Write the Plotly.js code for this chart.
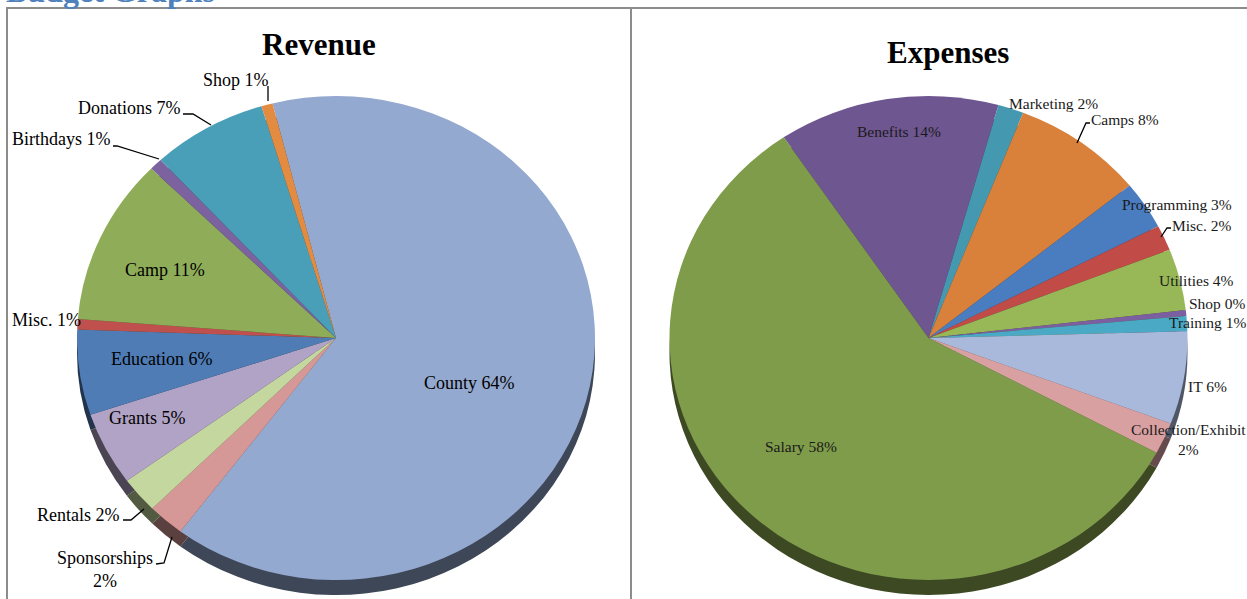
<!DOCTYPE html>
<html>
<head>
<meta charset="utf-8">
<script src="https://cdn.plot.ly/plotly-3.0.1.min.js"></script>
<style>
html,body{margin:0;padding:0;background:#ffffff;overflow:hidden;}
#chart{width:1247px;height:599px;}
</style>
</head>
<body>
<div id="chart"></div>
<script>
// ---------------- data ----------------
var pageHeading = 'Budget Graphs';
var chartTitles = ['Revenue', 'Expenses'];

var revLabels = ['County', 'Sponsorships', 'Rentals', 'Grants', 'Education', 'Misc.', 'Camp', 'Birthdays', 'Donations', 'Shop'];
var revValues = [64.2, 2.3, 2.4, 4.9, 5.7, 0.7, 11.1, 0.8, 7.2, 0.7];

var expLabels = ['Benefits', 'Marketing', 'Camps', 'Programming', 'Misc.', 'Utilities', 'Shop', 'Training', 'IT', 'Collection/Exhibit', 'Salary'];
var expValues = [13.8, 1.6, 8.2, 3.2, 1.7, 4.1, 0.4, 1.0, 6.2, 2.1, 57.7];

// ---------------- styles ----------------
var revColors = ['#94a9cf', '#d69896', '#c4d79e', '#b1a3c5', '#4f7cb5', '#c0504d', '#8fad58', '#7d62a0', '#4a9fb8', '#e28b41'];
var expColors = ['#6e5690', '#4499b0', '#d9803a', '#4a7cc0', '#c14b47', '#98b857', '#7b5fa0', '#4aaac6', '#a8b9db', '#d9a0a2', '#7f9c4b'];

var W = 1247, H = 599;
var RX = 259, RY = 242, DEPTH = 15;
var pieCenters = [[336, 338], [928.5, 338]];
var rotations = [-14.2, -34];

// label layout: centre in px, line break flag, leader line points in px
var revLabelLayout = [
  {c: [469, 383]},
  {c: [105, 569], br: true, line: [[156, 564], [164, 563], [172, 537]]},
  {c: [78, 515], line: [[123, 520], [131, 520], [144, 509]]},
  {c: [147, 418]},
  {c: [161, 359]},
  {c: [46, 320]},
  {c: [165, 270]},
  {c: [61, 139], line: [[113, 146], [117, 146], [159, 159]]},
  {c: [129, 108], line: [[183, 114], [193, 114], [211, 125]]},
  {c: [236, 80], line: [[268, 86], [268, 101]]}
];
var expLabelLayout = [
  {c: [899, 131]},
  {c: [1053, 104]},
  {c: [1125, 120], line: [[1090, 123], [1086, 123], [1077, 143]]},
  {c: [1177, 205]},
  {c: [1202, 225], line: [[1171, 228], [1167, 228], [1161, 237]]},
  {c: [1196, 280]},
  {c: [1217, 303]},
  {c: [1207, 322]},
  {c: [1207, 386]},
  {c: [1188, 440], br: true},
  {c: [801, 446]}
];

function px(x) { return x / W; }
function py(y) { return 1 - y / H; }

function darken(hex, f) {
  var n = parseInt(hex.slice(1), 16);
  var r = Math.round(((n >> 16) & 255) * f), g = Math.round(((n >> 8) & 255) * f), b = Math.round((n & 255) * f);
  return 'rgb(' + r + ',' + g + ',' + b + ')';
}

function domainFor(c) {
  return {
    x: [px(c[0] - RX), px(c[0] + RX)],
    y: [py(c[1] + RX), py(c[1] - RX)]
  };
}

function pieTrace(labels, values, colors, idx) {
  return {
    type: 'pie', labels: labels, values: values, sort: false, direction: 'clockwise',
    rotation: rotations[idx], marker: {colors: colors, line: {width: 0}},
    textinfo: 'none', hoverinfo: 'skip', showlegend: false,
    domain: domainFor(pieCenters[idx])
  };
}

var traces = [
  pieTrace(revLabels, revValues, revColors.map(function (c) { return darken(c, 0.42); }), 0),
  pieTrace(expLabels, expValues, expColors.map(function (c) { return darken(c, 0.47); }), 1),
  pieTrace(revLabels, revValues, revColors, 0),
  pieTrace(expLabels, expValues, expColors, 1)
];

var annotations = [];
var shapes = [];

function addLabels(labels, values, layoutArr, size, color) {
  var total = values.reduce(function (a, b) { return a + b; }, 0);
  labels.forEach(function (lab, i) {
    var L = layoutArr[i];
    var pct = Math.round(values[i] / total * 100) + '%';
    annotations.push({
      xref: 'paper', yref: 'paper', x: px(L.c[0]), y: py(L.c[1]),
      xanchor: 'center', yanchor: 'middle', showarrow: false,
      text: lab + (L.br ? '<br>' : ' ') + pct,
      font: {family: 'Liberation Serif, Times New Roman, serif', size: size, color: color}
    });
    if (L.line) {
      var d = L.line.map(function (p, k) { return (k ? 'L' : 'M') + px(p[0]) + ',' + py(p[1]); }).join(' ');
      shapes.push({type: 'path', xref: 'paper', yref: 'paper', path: d, line: {color: '#000', width: 1.3}});
    }
  });
}
addLabels(revLabels, revValues, revLabelLayout, 18, '#000000');
addLabels(expLabels, expValues, expLabelLayout, 15.5, '#1a1a1a');

// titles
annotations.push({xref: 'paper', yref: 'paper', x: px(319), y: py(44), showarrow: false, xanchor: 'center', yanchor: 'middle',
  text: '<b>' + chartTitles[0] + '</b>', font: {family: 'Liberation Serif, Times New Roman, serif', size: 31, color: '#000'}});
annotations.push({xref: 'paper', yref: 'paper', x: px(948), y: py(53), showarrow: false, xanchor: 'center', yanchor: 'middle',
  text: '<b>' + chartTitles[1] + '</b>', font: {family: 'Liberation Serif, Times New Roman, serif', size: 31, color: '#000'}});
// page heading (cut off at top)
annotations.push({xref: 'paper', yref: 'paper', x: px(4), y: py(11), showarrow: false, xanchor: 'left', yanchor: 'bottom',
  text: '<b>' + pageHeading + '</b>', font: {family: 'Liberation Serif, Times New Roman, serif', size: 32, color: '#4f81bd'}});

// panel borders
shapes.push({type: 'rect', xref: 'paper', yref: 'paper', x0: px(7), x1: px(631), y0: py(610), y1: py(8), line: {color: '#8c8c8c', width: 2}, layer: 'below'});
shapes.push({type: 'rect', xref: 'paper', yref: 'paper', x0: px(631), x1: px(1260), y0: py(610), y1: py(8), line: {color: '#8c8c8c', width: 2}, layer: 'below'});

var layout = {
  width: W, height: H,
  margin: {l: 0, r: 0, t: 0, b: 0},
  paper_bgcolor: '#ffffff', plot_bgcolor: '#ffffff',
  showlegend: false,
  annotations: annotations,
  shapes: shapes
};

var gd = document.getElementById('chart');
Plotly.newPlot(gd, traces, layout, {staticPlot: true, displayModeBar: false}).then(function () {
  // tilt the pies into ellipses (3D look); the first two traces are the darker rims
  var s = RY / RX;
  var groups = gd.querySelectorAll('.pielayer g.trace');
  for (var i = 0; i < groups.length; i++) {
    var cy = gd.calcdata[i][0].cy;
    var shift = i < 2 ? DEPTH : 0;
    groups[i].setAttribute('transform', 'translate(0,' + (shift + cy * (1 - s)) + ') scale(1,' + s + ')');
  }
});
</script>
</body>
</html>
